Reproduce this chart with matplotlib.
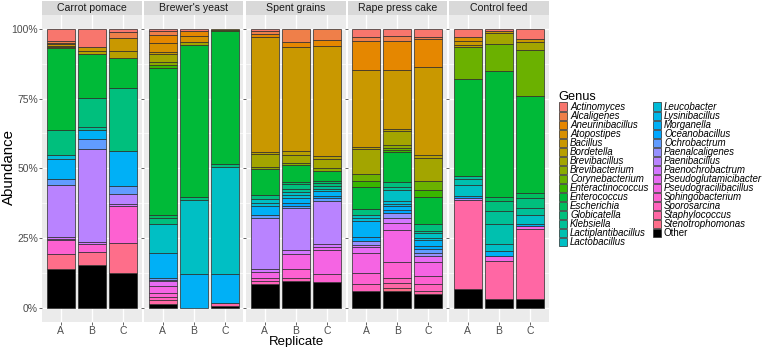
import numpy as np
import matplotlib
matplotlib.use("Agg")
from matplotlib import pyplot as plt
from matplotlib.patches import Patch, Rectangle

plt.rcParams['font.family'] = ['Liberation Sans', 'DejaVu Sans']

genera = ['Actinomyces', 'Alcaligenes', 'Aneurinibacillus', 'Atopostipes', 'Bacillus',
          'Bordetella', 'Brevibacillus', 'Brevibacterium', 'Corynebacterium',
          'Enteractinococcus', 'Enterococcus', 'Escherichia', 'Globicatella', 'Klebsiella',
          'Lactiplantibacillus', 'Lactobacillus', 'Leucobacter', 'Lysinibacillus',
          'Morganella', 'Oceanobacillus', 'Ochrobactrum', 'Paenalcaligenes', 'Paenibacillus',
          'Paenochrobactrum', 'Pseudoglutamicibacter', 'Pseudogracilibacillus',
          'Sphingobacterium', 'Sporosarcina', 'Staphylococcus', 'Stenotrophomonas', 'Other']

panels = ['Carrot pomace', "Brewer's yeast", 'Spent grains', 'Rape press cake', 'Control feed']
replicates = ['A', 'B', 'C']

# abundance (%) per genus, in the order of `genera`
carrot_A = [4.4, 0.6, 0, 0.3, 0.8, 0.4, 0.5, 0, 0, 0, 29.2, 0, 9.1, 0, 0, 0, 1.5, 0, 6.9, 0, 2.3, 0, 18.6, 0.7, 0.6, 0, 4.8, 0, 0, 5.4, 13.9]
carrot_B = [6.6, 0, 0, 0, 1.2, 1.2, 0, 0, 0, 0, 15.8, 0, 10.3, 1.0, 0, 0, 0, 0, 3.5, 0, 3.6, 0, 33.2, 0.7, 0, 0, 3.0, 0, 0, 4.7, 15.2]
carrot_C = [1.2, 2.0, 0, 0, 4.8, 2.4, 0, 0, 0, 0, 10.9, 0, 22.7, 0, 0, 0, 0, 0, 12.4, 0, 2.8, 0, 3.8, 0.6, 0, 0, 13.2, 0, 0, 10.8, 12.5]
brewer_A = [0.8, 1.5, 2.6, 3.4, 0.8, 0, 2.8, 1.2, 0, 1.0, 52.7, 1.0, 2.0, 0, 0, 10.5, 0, 0, 9.0, 0, 0.6, 0, 0.6, 0, 1.8, 2.4, 1.4, 1.0, 1.4, 0, 1.4]
brewer_B = [0.8, 0, 1.6, 2.4, 0, 0, 1.0, 0, 0, 0, 54.4, 0, 1.2, 0, 0, 26.5, 0, 0, 12.1, 0, 0, 0, 0, 0, 0, 0, 0, 0, 0, 0, 0]
brewer_C = [0, 0, 0, 0, 0.5, 0, 0, 0, 0.3, 0, 47.5, 0, 1.2, 0, 0, 38.4, 0, 0, 10.4, 0, 0, 0, 0, 0, 0, 0, 0, 0, 1.0, 0, 0.7]
spent_A = [0.8, 1.0, 1.0, 0, 41.3, 0.8, 4.6, 0.6, 0, 0, 9.6, 0, 1.4, 0, 0, 1.2, 1.2, 0, 3.2, 0, 1.0, 0, 18.6, 0.8, 0, 2.2, 1.0, 1.2, 0, 0, 8.5]
spent_B = [0, 4.8, 1.8, 0, 37.2, 1.4, 3.0, 0.8, 0, 0, 6.0, 0.8, 1.6, 1.0, 0, 1.2, 1.0, 0, 1.8, 1.0, 1.0, 0, 15.0, 1.3, 0, 5.6, 3.0, 1.0, 0, 0, 9.7]
spent_C = [0, 3.8, 2.4, 0, 39.3, 1.2, 3.2, 1.0, 0, 0, 3.6, 0.8, 1.2, 0.8, 0, 0.8, 0, 0, 1.8, 0.8, 1.0, 0, 15.6, 1.0, 1.2, 8.4, 3.0, 0, 0, 0, 9.1]
rape_A = [3.0, 1.4, 10.3, 0, 27.6, 0.8, 8.8, 0, 2.6, 2.4, 7.8, 0, 2.0, 0, 0, 1.2, 1.2, 0, 5.4, 1.6, 0, 1.6, 0, 0.6, 2.0, 7.2, 4.0, 2.6, 0, 0, 5.9]
rape_B = [2.6, 1.8, 10.3, 0, 21.2, 0.8, 4.8, 1.2, 0.8, 0.8, 10.8, 0, 1.8, 1.0, 0, 3.8, 1.0, 1.0, 1.2, 1.0, 0, 1.8, 0, 2.0, 2.4, 11.4, 5.8, 1.8, 1.8, 1.2, 5.9]
rape_C = [2.8, 0.8, 10.2, 0, 31.5, 0.8, 8.6, 0, 3.1, 2.4, 9.8, 0, 2.4, 0.8, 0, 1.6, 1.0, 0, 2.0, 1.2, 1.2, 1.2, 0, 0, 2.2, 5.0, 2.8, 2.6, 1.0, 0, 4.9]
control_A = [3.0, 0, 0, 1.4, 1.2, 1.0, 0, 0, 11.4, 0, 34.8, 0, 0, 1.0, 2.2, 4.0, 0, 0, 0, 0.6, 0, 0, 0.8, 0, 0, 0, 0, 0, 32.1, 0, 6.5]
control_B = [0.8, 0, 0, 0, 0.8, 0, 3.8, 0, 9.7, 0, 45.2, 1.4, 3.8, 4.6, 7.2, 2.4, 0, 0, 1.8, 0, 0, 0, 0, 0, 0, 1.8, 0, 0, 13.8, 0, 2.9]
control_C = [3.6, 0, 0, 0, 1.2, 0, 2.8, 0, 16.4, 0, 35.1, 1.7, 3.4, 2.8, 0, 3.0, 0, 0, 0.8, 0, 0, 0, 0, 0, 0, 1.0, 0, 0, 25.4, 0, 2.9]

data = {
    'Carrot pomace': [carrot_A, carrot_B, carrot_C],
    "Brewer's yeast": [brewer_A, brewer_B, brewer_C],
    'Spent grains': [spent_A, spent_B, spent_C],
    'Rape press cake': [rape_A, rape_B, rape_C],
    'Control feed': [control_A, control_B, control_C],
}


def hcl(h, c=100, l=65):
    # polar LUV -> sRGB, like R's hcl()
    hr = np.deg2rad(h)
    u, v = c * np.cos(hr), c * np.sin(hr)
    Xn, Yn, Zn = 95.047, 100.0, 108.883
    Y = Yn * ((l + 16) / 116) ** 3
    un = 4 * Xn / (Xn + 15 * Yn + 3 * Zn)
    vn = 9 * Yn / (Xn + 15 * Yn + 3 * Zn)
    up = u / (13 * l) + un
    vp = v / (13 * l) + vn
    X = Y * 9 * up / (4 * vp)
    Z = Y * (12 - 3 * up - 20 * vp) / (4 * vp)
    M = np.array([[3.2404542, -1.5371385, -0.4985314],
                  [-0.9692660, 1.8760108, 0.0415560],
                  [0.0556434, -0.2040259, 1.0572252]])
    rgb = M @ (np.array([X, Y, Z]) / 100)
    rgb = np.where(rgb <= 0.0031308, 12.92 * rgb, 1.055 * np.clip(rgb, 0, None) ** (1 / 2.4) - 0.055)
    return tuple(np.clip(rgb, 0, 1))


n = len(genera) - 1
colors = [hcl(15 + 360 * i / n) for i in range(n)] + ['black']

fig = plt.figure(figsize=(7.67, 3.47), dpi=100)
W, H = 767, 347

panel_left = [42, 144, 246, 347.5, 449]
pw = 99.5
y_top, y_bot = 15, 321.5

for k, name in enumerate(panels):
    ax = fig.add_axes([panel_left[k] / W, 1 - y_bot / H, pw / W, (y_bot - y_top) / H])
    ax.set_facecolor('#EBEBEB')
    ax.set_xlim(0.4, 3.6)
    ax.set_ylim(-0.05, 1.05)
    for yy in [0.125, 0.375, 0.625, 0.875]:
        ax.axhline(yy, color='white', lw=0.5, zorder=0)
    for yy in [0, 0.25, 0.5, 0.75, 1]:
        ax.axhline(yy, color='white', lw=1.0, zorder=0)
    for xx in [1, 2, 3]:
        ax.axvline(xx, color='white', lw=1.0, zorder=0)

    for j, vals in enumerate(data[name]):
        vals = np.array(vals, dtype=float)
        vals = vals / vals.sum()
        bottom = 0.0
        for g in range(len(genera) - 1, -1, -1):
            if vals[g] <= 0:
                continue
            ax.bar(j + 1, vals[g], bottom=bottom, width=0.9, color=colors[g],
                   edgecolor='#2b2b2b', linewidth=0.5, zorder=2)
            bottom += vals[g]

    ax.set_xticks([1, 2, 3])
    ax.set_xticklabels(replicates)
    ax.set_yticks([0, 0.25, 0.5, 0.75, 1])
    if k == 0:
        ax.set_yticklabels(['0%', '25%', '50%', '75%', '100%'])
    else:
        ax.tick_params(axis='y', length=0, labelleft=False)
    ax.tick_params(colors='#4D4D4D', labelsize=7.5, length=2, width=0.6, pad=1)
    for s in ax.spines.values():
        s.set_visible(False)

    # facet strip
    strip_h = 14 / (y_bot - y_top)
    ax.add_patch(Rectangle((0, 1), 1, strip_h, transform=ax.transAxes,
                           facecolor='#D9D9D9', edgecolor='none', clip_on=False))
    ax.text(0.5, 1 + strip_h / 2, name, transform=ax.transAxes, ha='center', va='center',
            fontsize=7.6, color='#1A1A1A')

fig.text(8.5 / W, 1 - 167 / H, 'Abundance', rotation=90, ha='center', va='center', fontsize=10.8)
fig.text(296 / W, 1 - 341.5 / H, 'Replicate', ha='center', va='center', fontsize=9.5)

handles = [Patch(facecolor=colors[i], edgecolor='#2b2b2b', linewidth=0.5) for i in range(len(genera))]
fs = 7.0
leg = fig.legend(handles, genera, ncol=2, title='Genus', frameon=False,
                 loc='upper left', bbox_to_anchor=(554 / W, 1 - 86 / H),
                 fontsize=fs, title_fontsize=9.2, borderpad=0,
                 handlelength=0.8, handleheight=0.9, labelspacing=-0.1,
                 columnspacing=0.35, handletextpad=0.35)
leg._legend_box.align = 'left'
for t in leg.get_texts():
    if t.get_text() != 'Other':
        t.set_style('italic')

fig.savefig('out.png', dpi=100)
